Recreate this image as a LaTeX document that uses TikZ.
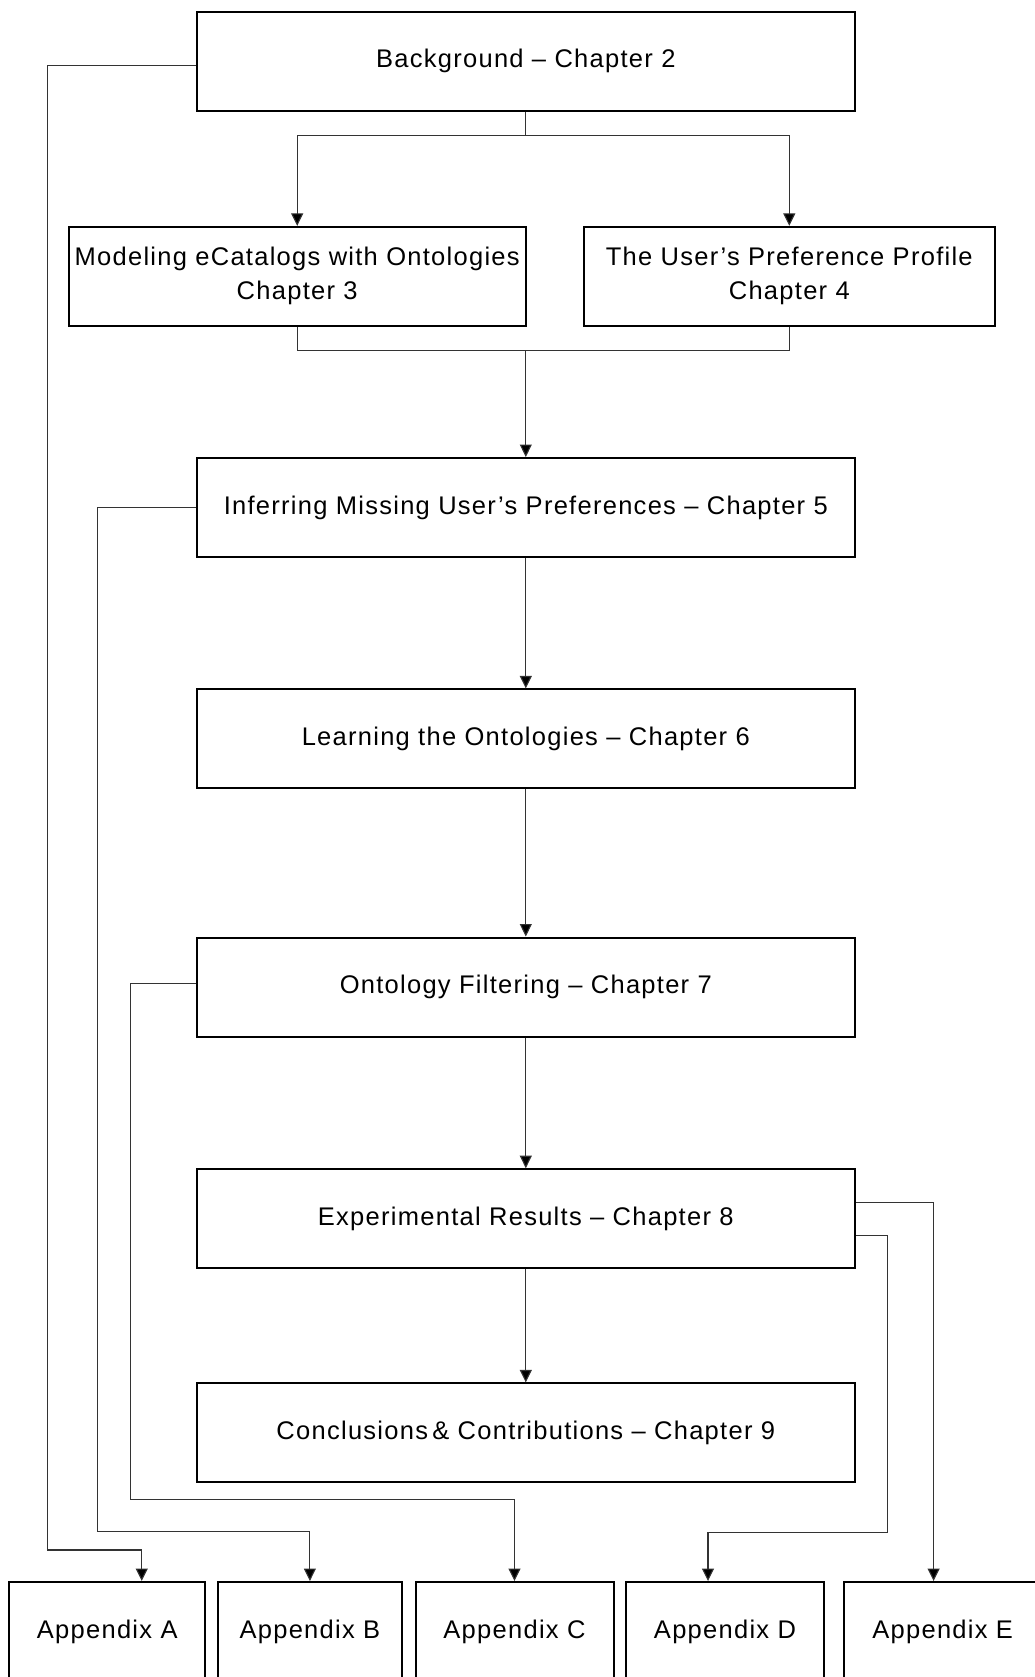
\documentclass[tikz,border=0pt]{standalone}
\usepackage{fontspec}
\setmainfont{Liberation Sans}[LetterSpace=5]
\usetikzlibrary{arrows.meta,calc}
\begin{document}
\begin{tikzpicture}[x=1pt,y=-1pt,
  box/.style={draw=black, line width=2pt, inner sep=0pt, minimum height=99pt,
    align=center, font=\fontsize{25.5}{34}\selectfont},
  wide/.style={box, minimum width=658.4pt},
  conn/.style={draw=black!80, line width=1.1pt},
  arr/.style={conn, -{Triangle[length=12.5pt,width=12pt,fill=black]}},
]
\useasboundingbox (0,0) rectangle (1034,1677);

% chapter boxes
\node[wide] (bg)  at (525.8,61.2)   {Background -- Chapter 2};
\node[box, minimum width=457.1pt] (mod)  at (297.2,276.4) {Modeling eCatalogs with Ontologies\\Chapter 3};
\node[box, minimum width=410.9pt] (pref) at (789.3,276.4) {The User’s Preference Profile\\Chapter 4};
\node[wide] (inf) at (525.8,507.5)  {Inferring Missing User’s Preferences -- Chapter 5};
\node[wide] (lrn) at (525.8,738.9)  {Learning the Ontologies -- Chapter 6};
\node[wide] (flt) at (525.8,987.0)  {Ontology Filtering -- Chapter 7};
\node[wide] (exp) at (525.8,1218.7) {Experimental Results -- Chapter 8};
\node[wide] (con) at (525.8,1432.9) {Conclusions\,\& Contributions -- Chapter 9};

% appendix boxes along the bottom edge
\node[box, minimum width=196.1pt] (appA) at (107.25,1631.5) {Appendix A};
\node[box, minimum width=184.8pt] (appB) at (309.9,1631.5)  {Appendix B};
\node[box, minimum width=198pt]   (appC) at (514.5,1631.5)  {Appendix C};
\node[box, minimum width=198pt]   (appD) at (725.0,1631.5)  {Appendix D};
\node[box, minimum width=198pt]   (appE) at (942.7,1631.5)  {Appendix E};

% branch and merge points
\coordinate (split) at (525.8,135.5);
\coordinate (join)  at (525.8,350.7);
\draw[conn] (bg.south) -- (split);
\draw[arr] (split) -| (mod.north);
\draw[arr] (split) -| (pref.north);
\draw[conn] (mod.south) |- (join);
\draw[conn] (pref.south) |- (join);
\draw[arr] (join) -- (inf.north);

% main chain
\draw[arr] (inf.south) -- (lrn.north);
\draw[arr] (lrn.south) -- (flt.north);
\draw[arr] (flt.south) -- (exp.north);
\draw[arr] (exp.south) -- (con.north);

% routes to the appendices
\coordinate (laneA) at (47.7,1550);
\coordinate (laneB) at (97.3,1531.5);
\coordinate (laneC) at (130.5,1499.5);
\coordinate (laneD) at (887.3,1532.3);
\draw[arr] ([yshift=-4pt]bg.west) -| (laneA) -| ([xshift=34.5pt]appA.north);
\draw[arr] (inf.west) -| (laneB) -| (appB.north);
\draw[arr] ([yshift=3.3pt]flt.west) -| (laneC) -| (appC.north);
\draw[arr] ([yshift=-16.6pt]exp.east) -| (laneD) -| ([xshift=-17pt]appD.north);
\draw[arr] ([yshift=16.4pt]exp.east) -| ([xshift=-9.1pt]appE.north);
\end{tikzpicture}
\end{document}
